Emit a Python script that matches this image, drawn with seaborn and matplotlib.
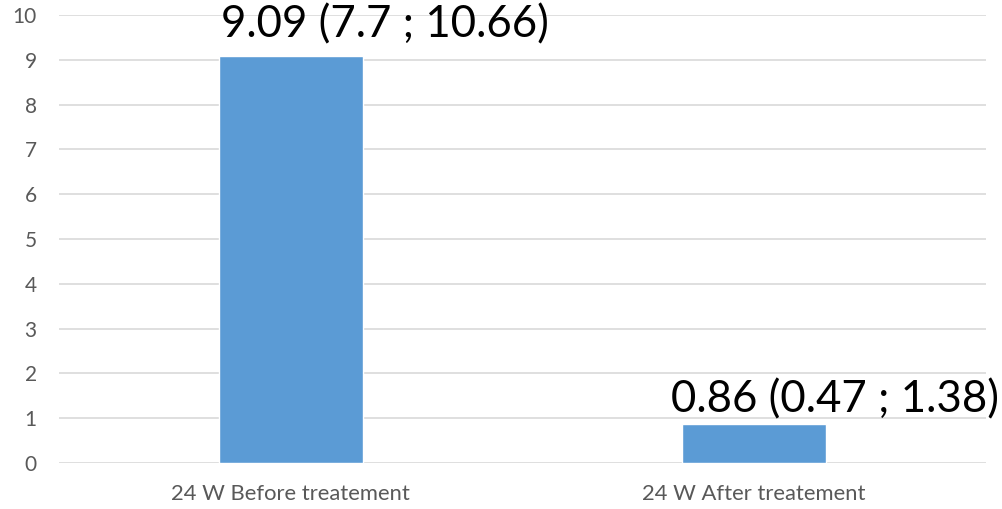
import matplotlib
matplotlib.use("Agg")
import matplotlib.pyplot as plt
import seaborn as sns
import pandas as pd

categories = ["24 W Before treatement", "24 W After treatement"]
values = [9.09, 0.86]
lower = [7.7, 0.47]
upper = [10.66, 1.38]
y_ticks = list(range(0, 11))

sns.set_theme(style="white")
plt.rcParams["font.family"] = ["Lato", "DejaVu Sans"]

df = pd.DataFrame({"group": categories, "value": values})

fig = plt.figure(figsize=(10.03, 5.09), dpi=100)
ax = fig.add_axes([0.0588, 0.0904, 0.9242, 0.8801])

sns.barplot(data=df, x="group", y="value", color="#5B9BD5", saturation=1,
            width=0.31, ax=ax, zorder=3)

ax.set_ylim(0, 10)
ax.set_xlim(-0.5, 1.5)
ax.set_yticks(y_ticks)
ax.set_yticklabels([str(t) for t in y_ticks])
ax.yaxis.grid(True, color="#D9D9D9", linewidth=1.2, zorder=0)
ax.set_axisbelow(True)
for s in ax.spines.values():
    s.set_visible(False)
ax.tick_params(axis="y", length=0, labelsize=15, colors="#595959", pad=16)
ax.tick_params(axis="x", length=0, labelsize=15.8, colors="#595959", pad=15)
ax.set_xlabel("")
ax.set_ylabel("")

# value labels with confidence interval, placed over each bar
label_offsets = [(0.005, 0.42), (-0.025, 0.26)]
for i, (v, lo, hi) in enumerate(zip(values, lower, upper)):
    dx, dy = label_offsets[i]
    ax.text(i - 0.155 + dx, v + dy, f"{v} ({lo} ; {hi})",
            ha="left", va="baseline", fontsize=31.5, color="black",
            clip_on=False, zorder=4)

fig.savefig("out.png", dpi=100)
